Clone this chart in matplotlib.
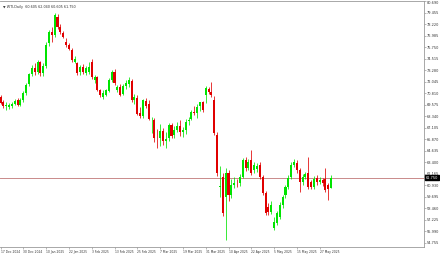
import numpy as np
import matplotlib
matplotlib.use('Agg')
import matplotlib.pyplot as plt
import matplotlib.transforms as mtransforms

# WTI daily candles
opens = [70.40, 69.90, 69.40, 69.35, 69.45, 69.60, 70.05, 69.55, 70.05, 70.80,
         71.75, 72.90, 73.55, 73.05, 74.15, 72.95, 73.75, 76.19, 77.37, 77.05,
         78.97, 77.90, 77.26, 76.30, 75.97, 75.44, 74.15, 74.04, 73.08, 73.61,
         72.97, 73.08, 74.15, 72.22, 72.54, 71.15, 70.40, 70.61, 71.05, 72.22,
         73.08, 71.15, 71.47, 70.70, 71.60, 71.80, 72.10, 70.10, 70.30, 68.70,
         68.40, 70.00, 69.60, 67.90, 67.90, 66.10, 66.00, 66.80, 65.70, 66.00,
         67.40, 66.30, 66.90, 67.30, 66.70, 66.90, 67.80, 68.00, 68.80, 68.70,
         69.40, 69.86, 70.61, 71.25, 70.93, 70.08, 66.33, 60.70, 61.82, 59.68,
         62.25, 59.89, 61.00, 61.20, 61.18, 61.82, 63.65, 62.79, 63.65, 62.57,
         62.68, 63.11, 61.82, 60.11, 58.61, 58.08, 56.36, 56.89, 57.54, 58.82,
         59.89, 60.75, 61.82, 63.11, 63.33, 62.57, 61.29, 61.82, 62.25, 61.29,
         60.75, 61.72, 61.29, 61.50, 61.61, 61.00, 60.605]
highs = [70.60, 70.10, 69.90, 69.80, 69.90, 70.20, 70.30, 70.30, 71.00, 71.90,
         73.00, 73.80, 74.00, 74.40, 74.30, 74.00, 76.30, 77.60, 77.90, 79.45,
         79.30, 78.20, 77.50, 76.70, 76.20, 75.60, 74.80, 74.20, 73.80, 73.90,
         73.70, 74.20, 74.50, 72.80, 72.70, 71.30, 71.10, 71.30, 72.40, 73.30,
         73.40, 71.70, 71.80, 71.80, 72.20, 72.50, 72.30, 70.70, 70.60, 69.30,
         70.20, 70.30, 70.10, 68.30, 68.10, 67.00, 67.50, 67.10, 66.60, 67.60,
         67.60, 67.30, 67.70, 67.90, 67.20, 68.00, 68.30, 69.00, 69.40, 69.60,
         69.90, 70.00, 71.60, 71.50, 72.00, 70.50, 66.60, 63.00, 62.30, 62.80,
         62.60, 61.60, 61.80, 61.60, 62.10, 63.90, 64.00, 63.80, 64.70, 63.40,
         63.30, 63.40, 62.00, 60.30, 59.00, 59.20, 57.50, 58.20, 59.10, 59.90,
         61.00, 62.00, 63.40, 63.80, 63.60, 62.80, 62.10, 62.40, 63.97, 61.50,
         61.90, 62.00, 61.80, 61.70, 62.79, 61.20, 62.04]
lows = [69.60, 69.25, 69.05, 69.10, 69.20, 69.50, 69.40, 69.40, 69.90, 70.60,
        71.60, 72.60, 72.80, 72.90, 72.70, 72.70, 73.50, 75.90, 76.30, 76.80,
        77.70, 77.10, 76.70, 75.80, 75.40, 74.20, 74.00, 72.80, 72.80, 72.90,
        72.80, 72.90, 72.30, 71.90, 71.00, 70.40, 70.20, 70.50, 70.90, 72.00,
        71.70, 70.90, 70.50, 70.60, 71.30, 71.50, 69.90, 69.70, 68.50, 68.10,
        68.10, 69.20, 67.90, 66.50, 65.60, 64.90, 65.20, 65.30, 64.90, 65.70,
        66.00, 66.00, 66.60, 66.20, 66.10, 66.40, 67.40, 67.90, 68.50, 68.20,
        68.90, 68.80, 69.80, 70.70, 70.40, 66.30, 61.90, 59.70, 57.60, 55.07,
        59.30, 59.60, 60.60, 60.80, 60.90, 61.70, 62.50, 62.60, 62.00, 62.30,
        62.40, 61.60, 59.90, 57.70, 57.80, 57.90, 56.14, 56.70, 57.30, 58.50,
        59.60, 60.50, 61.60, 62.90, 62.30, 60.20, 61.00, 61.60, 60.50, 60.50,
        60.50, 61.00, 61.10, 60.90, 60.20, 59.36, 60.605]
closes = [69.76, 69.45, 69.55, 69.50, 69.65, 69.95, 69.55, 70.05, 70.80, 71.70,
          72.85, 73.55, 73.05, 74.15, 72.95, 73.75, 76.00, 77.37, 77.05, 79.19,
          77.90, 77.37, 76.83, 75.97, 75.55, 74.37, 74.47, 72.97, 73.61, 73.08,
          73.51, 73.61, 72.54, 72.54, 71.15, 70.61, 70.83, 71.15, 72.22, 73.08,
          71.90, 71.47, 70.61, 71.55, 71.95, 72.18, 70.10, 70.40, 68.63, 68.32,
          70.05, 69.46, 68.07, 67.96, 66.01, 66.06, 66.74, 65.73, 65.95, 67.38,
          66.25, 66.88, 67.28, 66.60, 66.86, 67.77, 67.98, 68.81, 68.70, 69.35,
          69.86, 69.00, 71.36, 70.93, 70.61, 66.54, 62.25, 60.85, 57.97, 62.25,
          59.89, 60.97, 61.20, 61.15, 61.82, 63.65, 62.79, 63.43, 62.25, 63.11,
          63.00, 61.82, 60.11, 57.97, 58.08, 58.82, 57.00, 57.97, 58.82, 59.68,
          60.75, 61.72, 63.11, 63.43, 62.57, 61.29, 61.82, 62.14, 60.75, 60.75,
          61.61, 61.29, 61.50, 61.18, 60.43, 60.55, 61.75]

date_labels = ['17 Dec 2024', '30 Dec 2024', '10 Jan 2025', '22 Jan 2025', '3 Feb 2025',
               '13 Feb 2025', '25 Feb 2025', '7 Mar 2025', '19 Mar 2025', '31 Mar 2025',
               '10 Apr 2025', '22 Apr 2025', '5 May 2025', '15 May 2025', '27 May 2025']
label_step = 8

price_ticks = [80.690, 79.455, 78.220, 76.985, 75.750, 74.515, 73.280, 72.045,
               70.810, 69.575, 68.340, 67.105, 65.870, 64.635, 63.400, 62.165,
               60.930, 59.695, 58.460, 57.225, 55.990, 54.755]
last_price = 61.750
title_text = u'\u25bc WTI,Daily  60.605 62.040 60.605 61.750'

UP = '#00e400'
DOWN = '#e00000'
FRAME = '#9a9a9a'

fig = plt.figure(figsize=(4.40, 2.54), dpi=100)
ax = fig.add_axes([0.0, 7 / 254.0, 424 / 440.0, 246 / 254.0])

o = np.array(opens)
h = np.array(highs)
l = np.array(lows)
c = np.array(closes)
x = np.arange(len(o))
colors = [UP if cc >= oo else DOWN for oo, cc in zip(o, c)]

# wicks then bodies
ax.vlines(x, l, h, colors=colors, linewidth=0.55, zorder=2)
body_bottom = np.minimum(o, c)
body_height = np.maximum(np.abs(c - o), 0.06)
ax.bar(x, body_height, bottom=body_bottom, width=0.72, color=colors,
       linewidth=0, zorder=3)

# last price line and tag
ax.axhline(last_price, color='#c98a8a', linewidth=0.7, zorder=1)
ax.text(1.004, last_price, '%.3f' % last_price, transform=ax.get_yaxis_transform(),
        ha='left', va='center', fontsize=2.5, color='white', zorder=5,
        bbox=dict(boxstyle='square,pad=0.15', facecolor='black', edgecolor='black'))

ax.set_xlim(-0.18, 148.6)
ax.set_ylim(54.32, 80.69)

ax.yaxis.tick_right()
ax.set_yticks(price_ticks)
ax.set_yticklabels(['%.3f' % t for t in price_ticks])
ax.tick_params(axis='y', direction='out', length=1.2, width=0.5, pad=1.0,
               labelsize=2.5, colors='#333333')
ax.tick_params(axis='y', color=FRAME)
# top label would sit on the border, push it down into view
top_lab = ax.get_yticklabels()[0]
shift = mtransforms.ScaledTranslation(0, -2.0 / 100.0, fig.dpi_scale_trans)
top_lab.set_transform(top_lab.get_transform() + shift)

ticks = np.arange(len(date_labels)) * label_step
ax.set_xticks(ticks)
ax.set_xticklabels(date_labels, ha='left')
ax.tick_params(axis='x', direction='out', length=1.2, width=0.5, pad=0.8,
               labelsize=2.2, colors='#333333')
ax.tick_params(axis='x', color=FRAME)

for side in ['top', 'right', 'bottom']:
    ax.spines[side].set_color(FRAME)
    ax.spines[side].set_linewidth(0.6)
ax.spines['left'].set_visible(False)

ax.text(0.006, 0.985, title_text, transform=ax.transAxes, ha='left', va='top',
        fontsize=2.4, color='#333333')

fig.savefig('out.png', dpi=100, facecolor='white')
